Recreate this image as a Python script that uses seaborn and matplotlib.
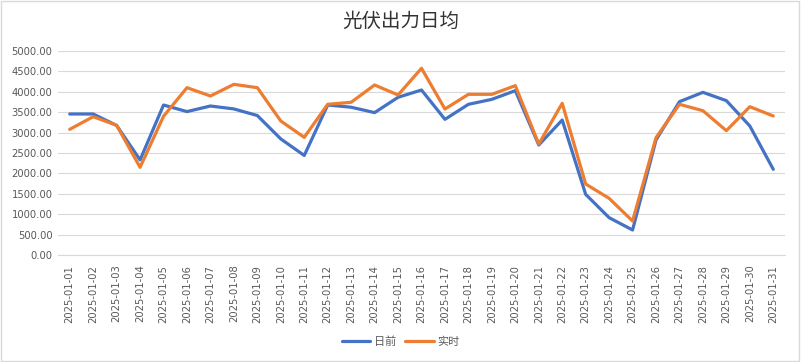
import matplotlib
matplotlib.use("Agg")
import matplotlib.pyplot as plt
import numpy as np
import pandas as pd
import seaborn as sns

dates = [f"2025-01-{d:02d}" for d in range(1, 32)]
day_ahead = [3456, 3456, 3175, 2330, 3676, 3515, 3652, 3580, 3418, 2845,
             2440, 3676, 3622, 3490, 3865, 4044, 3325, 3693, 3815, 4028,
             2696, 3309, 1487, 915, 613, 2819, 3758, 3987, 3783, 3162, 2100]
real_time = [3080, 3390, 3178, 2149, 3400, 4101, 3897, 4183, 4101, 3284,
             2884, 3693, 3743, 4167, 3922, 4576, 3578, 3938, 3938, 4151,
             2720, 3717, 1740, 1389, 833, 2876, 3693, 3537, 3047, 3635, 3407]
series_names = ["日前", "实时"]
colors = ["#4472C4", "#ED7D31"]

df = pd.DataFrame({
    "idx": list(range(len(dates))) * 2,
    "value": day_ahead + real_time,
    "series": [series_names[0]] * len(dates) + [series_names[1]] * len(dates),
})

sns.set_style("white")
plt.rcParams["font.family"] = ["Noto Sans CJK SC", "DejaVu Sans"]

fig = plt.figure(figsize=(8.01, 3.62), dpi=100)
ax = fig.add_axes([58 / 801, 1 - 255 / 362, 727 / 801, 204 / 362])

sns.lineplot(data=df, x="idx", y="value", hue="series", palette=colors,
             linewidth=2.3, ax=ax, legend=False)

ax.set_xlim(-0.5, len(dates) - 0.5)
ax.set_ylim(0, 5000)
ax.set_yticks(np.arange(0, 5001, 500))
ax.set_yticklabels([f"{v:.2f}" for v in np.arange(0, 5001, 500)],
                   family="DejaVu Sans", fontsize=7.2, color="#595959")
ax.set_xticks(range(len(dates)))
ax.set_xticklabels(dates, rotation=90, family="DejaVu Sans", fontsize=7.2,
                   color="#595959")
ax.set_xticks(np.arange(-0.5, len(dates), 1), minor=True)
ax.tick_params(axis="x", which="major", length=0, pad=7)
ax.tick_params(axis="x", which="minor", length=5, color="#d9d9d9", width=0.8)
ax.tick_params(axis="y", length=0, pad=4)
ax.yaxis.grid(True, color="#d9d9d9", linewidth=0.8)
ax.set_axisbelow(True)
for s in ["top", "right", "left"]:
    ax.spines[s].set_visible(False)
ax.spines["bottom"].set_color("#d9d9d9")
ax.set_xlabel("")
ax.set_ylabel("")

fig.text(0.5, 1 - 21 / 362, "光伏出力日均", ha="center", va="center",
         fontsize=14, color="#333333")

handles = [plt.Line2D([], [], color=c, linewidth=2.3) for c in colors]
fig.legend(handles, series_names, loc="center", bbox_to_anchor=(0.5, 1 - 342 / 362),
           ncol=2, frameon=False, fontsize=8, handlelength=2.6, columnspacing=0.8,
           handletextpad=0.3, labelcolor="#595959")

fig.patches.append(plt.Rectangle((0.001, 0.002), 0.997, 0.995, transform=fig.transFigure,
                                 fill=False, edgecolor="#d9d9d9", linewidth=1))

fig.savefig("out.png", dpi=100)
